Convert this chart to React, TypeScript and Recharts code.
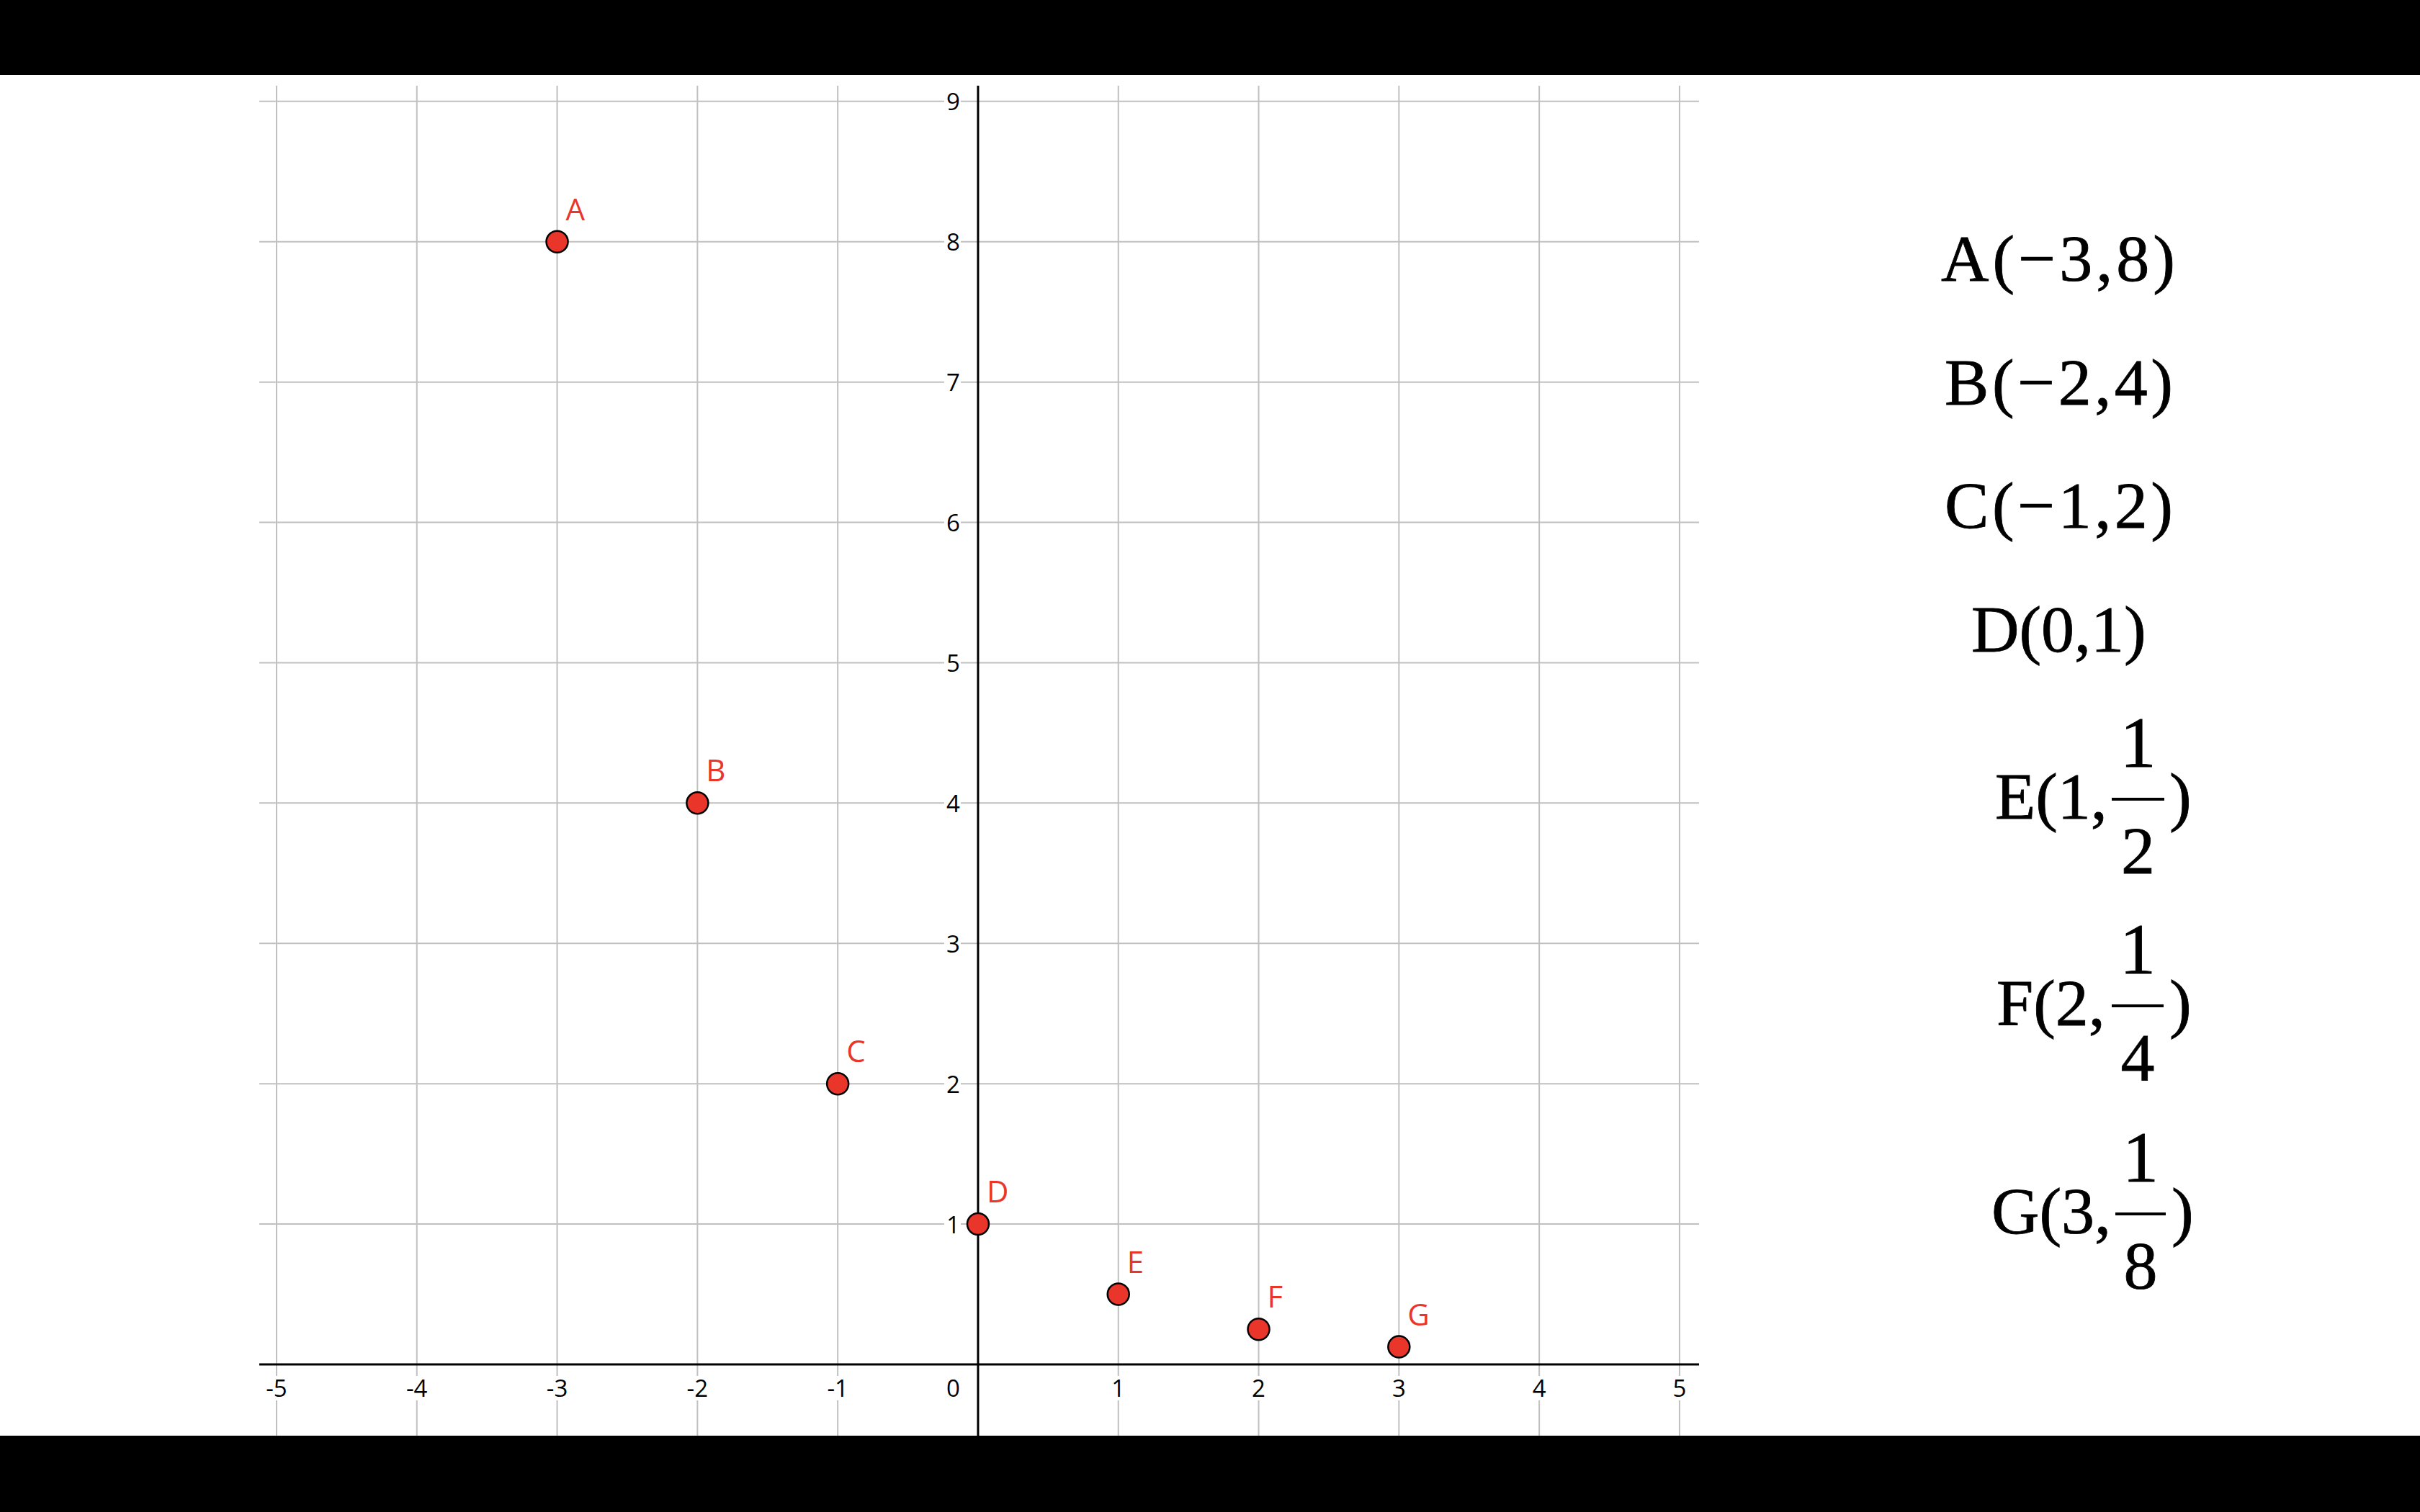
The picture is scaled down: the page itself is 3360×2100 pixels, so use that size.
import { ScatterChart, Scatter, XAxis, YAxis, ReferenceLine } from 'recharts'

// points of y = (1/2)^x
const POINT_NAMES = ['A', 'B', 'C', 'D', 'E', 'F', 'G']
const POINT_X = [-3, -2, -1, 0, 1, 2, 3]
const POINT_Y = [8, 4, 2, 1, 0.5, 0.25, 0.125]
// how each y is written on the right-hand side
const Y_TEXT = ['8', '4', '2', '1', '1/2', '1/4', '1/8']

const X_TICKS = [-5, -4, -3, -2, -1, 0, 1, 2, 3, 4, 5]
const Y_TICKS = [0, 1, 2, 3, 4, 5, 6, 7, 8, 9]

const X_DOMAIN: [number, number] = [-5.123, 5.139]
const Y_DOMAIN: [number, number] = [-0.508, 9.112]

const RED = '#E9352A'
const GRID = '#c0c0c0'
const SANS = '"Open Sans", sans-serif'
const SERIF = '"Liberation Serif", "Times New Roman", serif'
const TICK_SIZE = 33

const points = POINT_NAMES.map((name, i) => ({ name, x: POINT_X[i], y: POINT_Y[i] }))
const xTickData = X_TICKS.filter(v => v !== 0).map(v => ({ x: v, y: 0, label: String(v) }))
const yTickData = Y_TICKS.map(v => ({ x: 0, y: v, label: String(v) }))

function XTickLabel(props: any) {
  const { cx, cy, payload } = props
  const w = payload.label.length * 19 + 4
  return (
    <g>
      <rect x={cx - w / 2} y={cy + 16} width={w} height={34} fill="#fff" />
      <text x={cx} y={cy + 33} textAnchor="middle" dominantBaseline="central" fontSize={TICK_SIZE} fontFamily={SANS} fill="#000">{payload.label}</text>
    </g>
  )
}

function YTickLabel(props: any) {
  const { cx, cy, payload } = props
  const w = payload.label.length * 19 + 4
  const dy = payload.y === 0 ? 33 : 0
  return (
    <g>
      {payload.y !== 0 && <rect x={cx - 24 - w} y={cy - 16} width={w} height={32} fill="#fff" />}
      <text x={cx - 25} y={cy + dy} textAnchor="end" dominantBaseline="central" fontSize={TICK_SIZE} fontFamily={SANS} fill="#000">{payload.label}</text>
    </g>
  )
}

function PointShape(props: any) {
  const { cx, cy, payload } = props
  return (
    <g>
      <circle cx={cx} cy={cy} r={15} fill={RED} stroke="#000" strokeWidth={2.5} />
      <text x={cx + 12} y={cy - 30} fontSize={42} fontFamily={SANS} fill={RED}>{payload.name}</text>
    </g>
  )
}

// right-hand list of coordinates
const ROWS = [
  { left: 2695, base: 390, len: 325 },
  { left: 2700, base: 562, len: 317 },
  { left: 2700, base: 733, len: 317 },
  { left: 2737, base: 905, len: 0 },
  { left: 2770, base: 1137, len: 0, bar: [2932, 3005], close: 3012 },
  { left: 2772, base: 1424, len: 0, bar: [2932, 3004], close: 3012 },
  { left: 2765, base: 1713, len: 0, bar: [2937, 3007], close: 3015 },
]

function Formulas() {
  return (
    <svg width={3360} height={2100} style={{ position: 'absolute', left: 0, top: 0, pointerEvents: 'none' }}>
      {ROWS.map((r, i) => {
        const xs = String(POINT_X[i]).replace('-', '\u2212')
        const yt = Y_TEXT[i]
        if (!yt.includes('/')) {
          const s = `${POINT_NAMES[i]}(${xs},${yt})`
          return (
            <text key={i} x={r.left} y={r.base} fontSize={92} fontFamily={SERIF} fill="#000" stroke="#000" strokeWidth={0.8}
              {...(r.len ? { textLength: r.len, lengthAdjust: 'spacing' } : {})}>{s}</text>
          )
        }
        const [num, den] = yt.split('/')
        const bar = r.bar as number[]
        const mid = (bar[0] + bar[1]) / 2
        const barY = r.base - 27
        return (
          <g key={i} fontFamily={SERIF} fill="#000" stroke="#000" strokeWidth={0.8}>
            <text x={r.left} y={r.base} fontSize={92}>{`${POINT_NAMES[i]}(${xs},`}</text>
            <line x1={bar[0]} x2={bar[1]} y1={barY} y2={barY} stroke="#000" strokeWidth={4} />
            <text x={mid} y={barY - 45} textAnchor="middle" fontSize={100}>{num}</text>
            <text x={mid} y={barY + 103} textAnchor="middle" fontSize={94}>{den}</text>
            <text x={r.close} y={r.base} fontSize={92}>)</text>
          </g>
        )
      })}
    </svg>
  )
}

export default function App() {
  return (
    <div style={{ position: 'absolute', left: 0, top: 0, width: 3360, height: 2100, background: '#000', overflow: 'hidden' }}>
      <div style={{ position: 'absolute', left: 0, top: 104, width: 3360, height: 1890, background: '#fff' }} />
      <div style={{ position: 'absolute', left: 360, top: 119 }}>
        <ScatterChart width={1999} height={1875} margin={{ top: 0, right: 0, bottom: 0, left: 0 }}>
          <XAxis type="number" dataKey="x" domain={X_DOMAIN} ticks={X_TICKS} allowDataOverflow hide />
          <YAxis type="number" dataKey="y" domain={Y_DOMAIN} ticks={Y_TICKS} allowDataOverflow hide />
          {X_TICKS.map(v => <ReferenceLine key={`gx${v}`} x={v} stroke={GRID} strokeWidth={2} />)}
          {Y_TICKS.map(v => <ReferenceLine key={`gy${v}`} y={v} stroke={GRID} strokeWidth={2} />)}
          <ReferenceLine x={0} stroke="#000" strokeWidth={3} />
          <ReferenceLine y={0} stroke="#000" strokeWidth={3} />
          <Scatter data={xTickData} shape={XTickLabel} isAnimationActive={false} />
          <Scatter data={yTickData} shape={YTickLabel} isAnimationActive={false} />
          <Scatter data={points} shape={PointShape} isAnimationActive={false} />
        </ScatterChart>
      </div>
      <Formulas />
    </div>
  )
}
